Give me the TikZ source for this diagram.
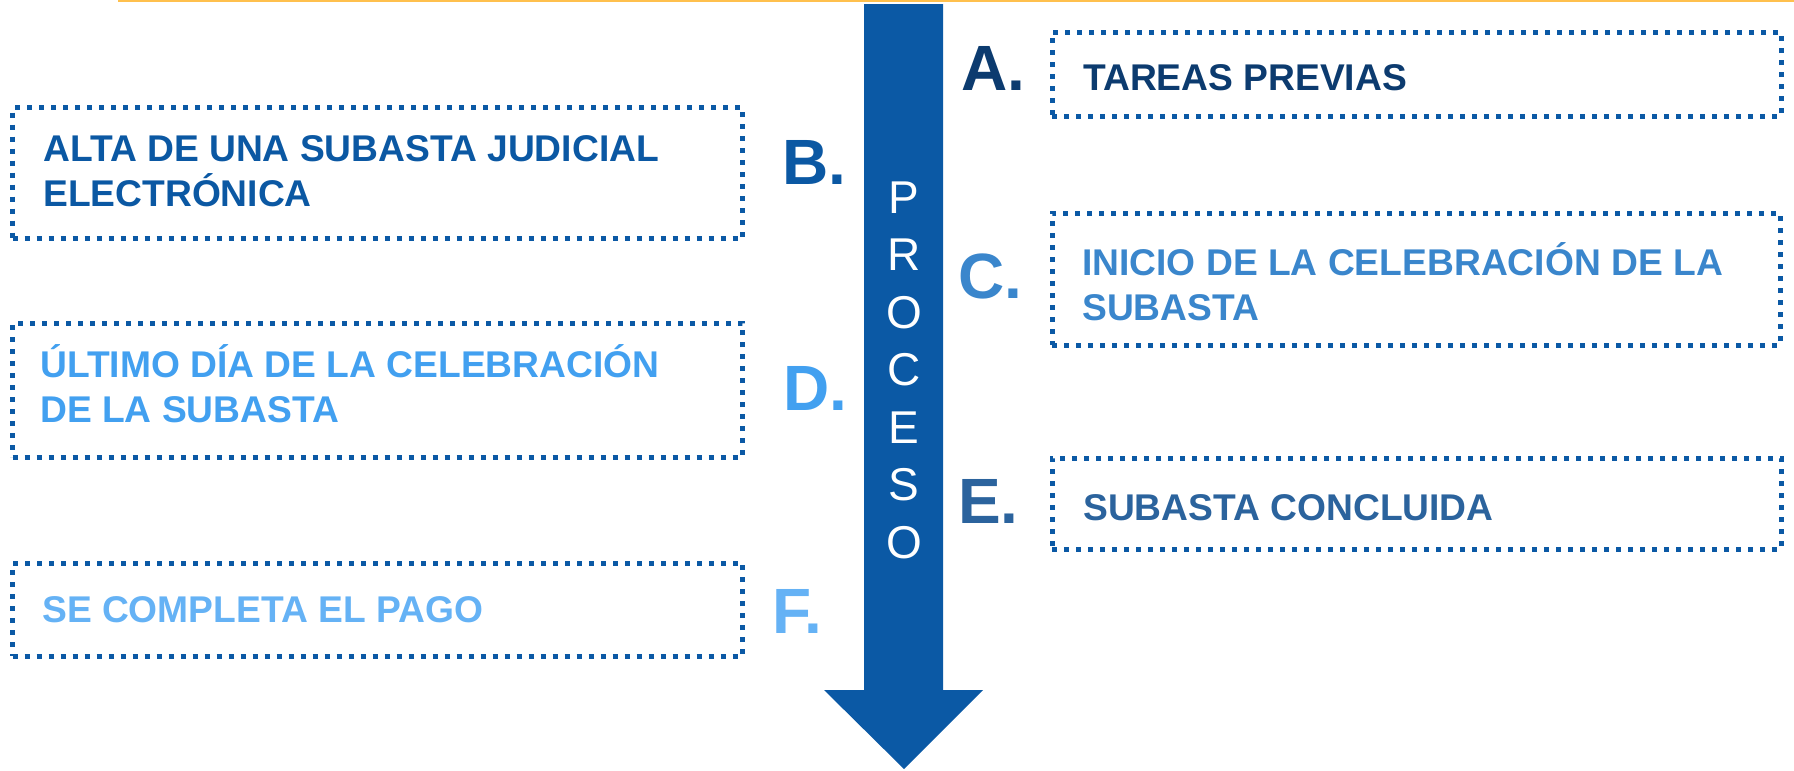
\documentclass[tikz,border=0pt]{standalone}
\usepackage{fontspec}
\setmainfont{Liberation Sans}
\definecolor{arrowblue}{RGB}{11,89,165}
\definecolor{topline}{RGB}{255,192,77}
\definecolor{colA}{RGB}{12,59,111}
\definecolor{colB}{RGB}{11,88,163}
\definecolor{colC}{RGB}{58,134,204}
\definecolor{colD}{RGB}{66,160,240}
\definecolor{colE}{RGB}{43,99,157}
\definecolor{colF}{RGB}{101,178,245}
\begin{document}
\begin{tikzpicture}[x=1pt,y=-1pt,
  stagebox/.style={draw=arrowblue, line width=5pt, dash pattern=on 5pt off 7pt,
    rectangle, inner sep=0pt, outer sep=0pt},
  stageletter/.style={font=\bfseries\fontsize{64}{64}\selectfont, anchor=base west, inner sep=0pt},
  stagetext/.style={font=\bfseries\fontsize{37.2}{45}\selectfont, anchor=base west, inner sep=0pt},
  proc/.style={font=\fontsize{46}{46}\selectfont, text=white, anchor=base, inner sep=0pt}]
\useasboundingbox (0,0) rectangle (1794,771);
% top rule
\draw[topline, line width=2pt] (118,1) -- (1794,1);
% process arrow
\fill[arrowblue] (864,4) -- (943,4) -- (943,690) -- (983,690) -- (904,769)
  -- (824,690) -- (864,690) -- cycle;
\foreach \l [count=\i] in {P,R,O,C,E,S,O}
  \node[proc] (proc\i) at (904,{213+57.5*(\i-1)}) {\l};
% boxes
\node[stagebox, minimum width=729pt, minimum height=84pt] (boxA) at (1416.5,74) {};
\node[stagebox, minimum width=730pt, minimum height=131pt] (boxB) at (377.5,107.5+65.5) {};
\node[stagebox, minimum width=728pt, minimum height=132pt] (boxC) at (1416,279) {};
\node[stagebox, minimum width=730pt, minimum height=134pt] (boxD) at (377.5,390) {};
\node[stagebox, minimum width=729pt, minimum height=91pt] (boxE) at (1416.5,503.5) {};
\node[stagebox, minimum width=730pt, minimum height=93pt] (boxF) at (377.5,609.5) {};
% letters
\node[stageletter, text=colA] (letA) at (961,90) {A.};
\node[stageletter, text=colB] (letB) at (782,184) {B.};
\node[stageletter, text=colC] (letC) at (958,298) {C.};
\node[stageletter, text=colD] (letD) at (783,410) {D.};
\node[stageletter, text=colE] (letE) at (958,523) {E.};
\node[stageletter, text=colF] (letF) at (772,633) {F.};
% texts
\node[stagetext, text=colA] (txtA) at (1083,90) {TAREAS PREVIAS};
\node[stagetext, text=colB] (txtB) at (43,161) {\parbox[t]{700pt}{ALTA DE UNA SUBASTA JUDICIAL\\ELECTRÓNICA}};
\node[stagetext, text=colC] (txtC) at (1082,275) {\parbox[t]{700pt}{INICIO DE LA CELEBRACIÓN DE LA\\SUBASTA}};
\node[stagetext, text=colD] (txtD) at (40,377) {\parbox[t]{700pt}{ÚLTIMO DÍA DE LA CELEBRACIÓN\\DE LA SUBASTA}};
\node[stagetext, text=colE] (txtE) at (1083,520) {SUBASTA CONCLUIDA};
\node[stagetext, text=colF] (txtF) at (42,622) {SE COMPLETA EL PAGO};
\end{tikzpicture}
\end{document}
